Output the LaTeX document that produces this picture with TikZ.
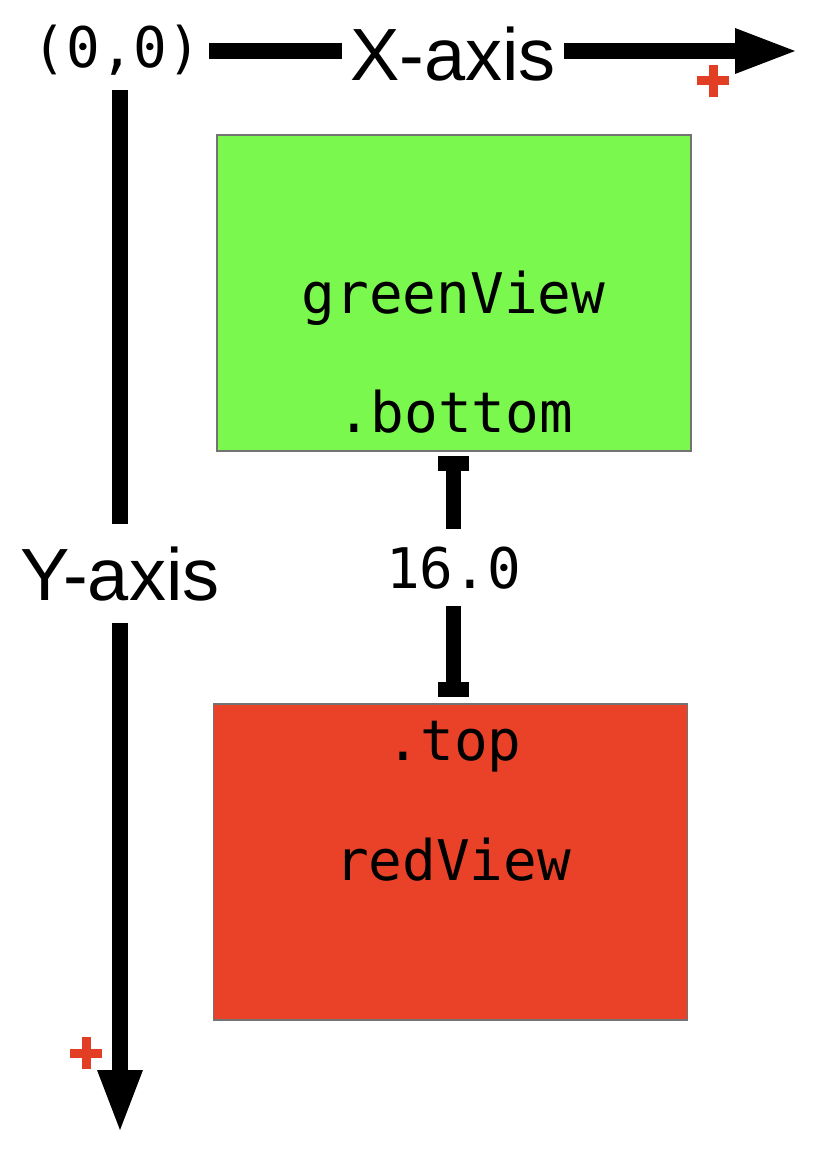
\documentclass[tikz,border=0pt]{standalone}
\usepackage{fontspec}
\setmainfont{Liberation Sans}
\newfontfamily\codefont{DejaVu Sans Mono}
\usetikzlibrary{arrows.meta}
\definecolor{viewgreen}{RGB}{123,248,78}
\definecolor{viewred}{RGB}{233,66,40}
\definecolor{plusred}{RGB}{226,62,36}
\tikzset{
  code/.style={font=\codefont\fontsize{56}{60}\selectfont, inner sep=0pt, anchor=base},
  axislabel/.style={font=\fontsize{74}{80}\selectfont, inner sep=0pt, anchor=base},
  axisline/.style={line width=16pt},
  axistip/.style={-{Triangle[length=60pt,width=46pt,line width=0pt]}},
  view/.style={draw=black!55, line width=1.2pt, minimum width=474pt, minimum height=316pt, inner sep=0pt},
  beam/.style={line width=15pt, {Rectangle[length=15pt,width=31pt,line width=0pt]}-},
  plusmark/.style={draw=plusred, line width=9pt},
}
\begin{document}
\begin{tikzpicture}[x=1pt, y=-1pt]
\useasboundingbox[fill=white] (0,0) rectangle (834,1158);
% views
\node[view, fill=viewgreen] (green) at (454,293) {};
\node[view, fill=viewred] (red) at (450.5,862) {};
\node[code] (gname) at (453.5,313) {greenView};
\node[code] (gbottom) at (455,432) {.bottom};
\node[code] (rtop) at (454,760) {.top};
\node[code] (rname) at (453,880) {redView};
% spacing
\node[code, inner ysep=17pt] (gap) at (453.5,588) {16.0};
\draw[beam] ([yshift=-4pt]green.south -| gap) -- (gap.north);
\draw[beam] ([yshift=6pt]red.north -| gap) -- (gap.south);
% axes
\node[code, inner xsep=8pt] (origin) at (117,68) {(0,0)};
\node[axislabel, inner xsep=8pt] (xlabel) at (453,81) {X-axis};
\node[axislabel, inner ysep=22pt] (ylabel) at (120,600) {Y-axis};
\coordinate (xend) at (795,51);
\coordinate (ytop) at (120,90);
\coordinate (yend) at (120,1130);
\draw[axisline] (origin.east |- xend) -- (xlabel.west |- xend);
\draw[axisline, axistip] (xlabel.east |- xend) -- (xend);
\draw[axisline] (ytop) -- (ylabel.north);
\draw[axisline, axistip] (ylabel.south) -- (yend);
% plus marks
\draw[plusmark] (697,81) -- (729,81) (713,65) -- (713,97);
\draw[plusmark] (70,1053) -- (102,1053) (86,1037) -- (86,1069);
\end{tikzpicture}
\end{document}
